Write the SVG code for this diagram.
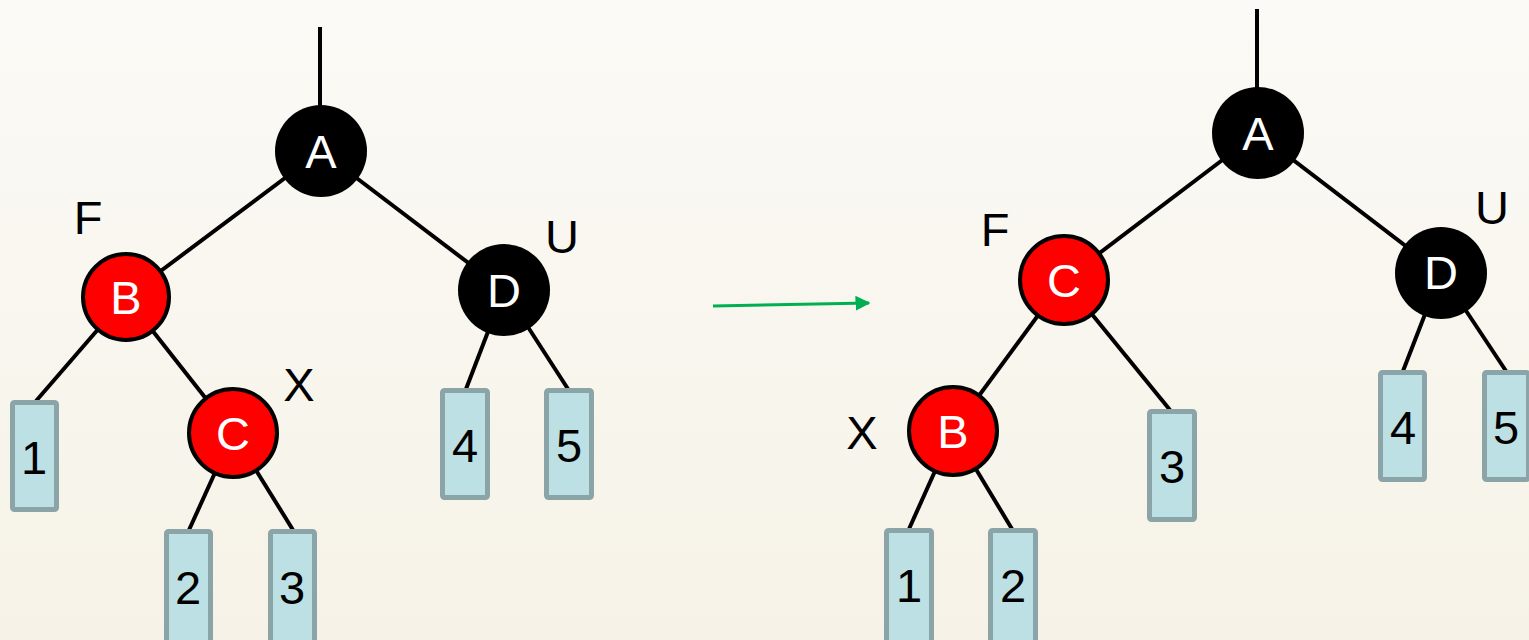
<svg xmlns="http://www.w3.org/2000/svg" width="1529" height="640" viewBox="0 0 1529 640">
<defs>
<linearGradient id="bg" x1="0" y1="0" x2="0" y2="1">
<stop offset="0" stop-color="#fbfaf6"/>
<stop offset="1" stop-color="#f6f2e7"/>
</linearGradient>
<marker id="arr" viewBox="0 0 10 10" refX="9" refY="5" markerWidth="5" markerHeight="5" markerUnits="strokeWidth" orient="auto">
<path d="M0,0 L10,5 L0,10 Z" fill="#00b050"/>
</marker>
<style>
.edge{stroke:#000;stroke-width:4;fill:none}
.blk{fill:#000}
.red{fill:#ff0000;stroke:#000;stroke-width:4}
.box{fill:#bce0e3;stroke:#8ba4a7;stroke-width:5}
.nl{font-family:"Liberation Sans",Arial,sans-serif;font-size:47px;fill:#fff;text-anchor:middle}
.bl{font-family:"Liberation Sans",Arial,sans-serif;font-size:47px;fill:#000;text-anchor:middle}
</style>
</defs>
<rect width="1529" height="640" fill="url(#bg)"/>
<g id="connectors">
<line class="edge" x1="320" y1="27" x2="320" y2="110"/>
<line class="edge" x1="321" y1="151" x2="126" y2="297"/>
<line class="edge" x1="321" y1="151" x2="504" y2="290"/>
<line class="edge" x1="126" y1="297" x2="36" y2="401"/>
<line class="edge" x1="126" y1="297" x2="233" y2="433"/>
<line class="edge" x1="233" y1="433" x2="189" y2="530"/>
<line class="edge" x1="233" y1="433" x2="293" y2="530"/>
<line class="edge" x1="504" y1="290" x2="466" y2="389"/>
<line class="edge" x1="504" y1="290" x2="568" y2="389"/>
<line class="edge" x1="1257" y1="9" x2="1257" y2="90"/>
<line class="edge" x1="1258" y1="133" x2="1064" y2="280"/>
<line class="edge" x1="1258" y1="133" x2="1441" y2="273"/>
<line class="edge" x1="1064" y1="280" x2="953" y2="431"/>
<line class="edge" x1="1064" y1="280" x2="1170" y2="410"/>
<line class="edge" x1="953" y1="431" x2="909" y2="529"/>
<line class="edge" x1="953" y1="431" x2="1012" y2="529"/>
<line class="edge" x1="1441" y1="273" x2="1403" y2="371"/>
<line class="edge" x1="1441" y1="273" x2="1506" y2="371"/>
<line x1="713" y1="306" x2="869" y2="303" stroke="#00b050" stroke-width="3" marker-end="url(#arr)"/>
</g>
<g id="L-A"><circle class="blk" cx="321" cy="151" r="46"/><text class="nl" x="321" y="168">A</text></g>
<g id="L-B"><circle class="red" cx="126" cy="297" r="43"/><text class="nl" x="126" y="314">B</text></g>
<g id="L-C"><circle class="red" cx="233" cy="433" r="44"/><text class="nl" x="233" y="450">C</text></g>
<g id="L-D"><circle class="blk" cx="504" cy="290" r="46"/><text class="nl" x="504" y="307">D</text></g>
<g id="L-F"><text class="bl" x="88" y="234">F</text></g>
<g id="L-U"><text class="bl" x="562" y="253">U</text></g>
<g id="L-X"><text class="bl" x="299" y="401">X</text></g>
<g id="L-1"><rect class="box" x="12.5" y="402.5" width="44" height="107" rx="2"/><text class="bl" x="34" y="474">1</text></g>
<g id="L-2"><rect class="box" x="166.5" y="531.5" width="44" height="115" rx="2"/><text class="bl" x="188" y="604">2</text></g>
<g id="L-3"><rect class="box" x="270.5" y="531.5" width="44" height="115" rx="2"/><text class="bl" x="292" y="604">3</text></g>
<g id="L-4"><rect class="box" x="442.5" y="390.5" width="45" height="107" rx="2"/><text class="bl" x="465" y="462">4</text></g>
<g id="L-5"><rect class="box" x="546.5" y="390.5" width="45" height="107" rx="2"/><text class="bl" x="569" y="462">5</text></g>
<g id="R-A"><circle class="blk" cx="1258" cy="133" r="46"/><text class="nl" x="1258" y="150">A</text></g>
<g id="R-C"><circle class="red" cx="1064" cy="280" r="44"/><text class="nl" x="1064" y="297">C</text></g>
<g id="R-B"><circle class="red" cx="953" cy="431" r="44"/><text class="nl" x="953" y="448">B</text></g>
<g id="R-D"><circle class="blk" cx="1441" cy="273" r="46"/><text class="nl" x="1441" y="289">D</text></g>
<g id="R-F"><text class="bl" x="995" y="246">F</text></g>
<g id="R-U"><text class="bl" x="1492" y="224">U</text></g>
<g id="R-X"><text class="bl" x="862" y="449">X</text></g>
<g id="R-1"><rect class="box" x="886.5" y="530.5" width="45" height="115" rx="2"/><text class="bl" x="909" y="602">1</text></g>
<g id="R-2"><rect class="box" x="990.5" y="530.5" width="45" height="115" rx="2"/><text class="bl" x="1013" y="602">2</text></g>
<g id="R-3"><rect class="box" x="1149.5" y="411.5" width="45" height="108" rx="2"/><text class="bl" x="1172" y="483">3</text></g>
<g id="R-4"><rect class="box" x="1380.5" y="372.5" width="44" height="107" rx="2"/><text class="bl" x="1403" y="444">4</text></g>
<g id="R-5"><rect class="box" x="1484.5" y="372.5" width="44" height="107" rx="2"/><text class="bl" x="1506" y="444">5</text></g>
</svg>
